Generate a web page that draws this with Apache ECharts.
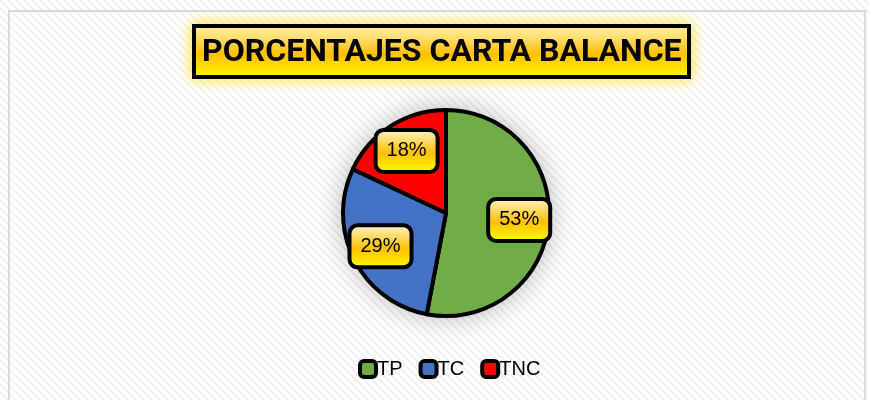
<!DOCTYPE html>
<html>
<head>
<meta charset="utf-8">
<script src="https://cdn.jsdelivr.net/npm/echarts@6/dist/echarts.min.js"></script>
<style>
html, body { margin: 0; padding: 0; background: #fff; }
#Pie { width: 869px; height: 400px; }
</style>
</head>
<body>
<div id="Pie"></div>
<script>
// datos del grafico
var categorias = ['TP', 'TC', 'TNC'];
var valores = [53, 29, 18];
var colores = ['#70ad47', '#4472c4', '#ff0000'];
var titulo = 'PORCENTAJES CARTA BALANCE';

// fondo con trama diagonal
var trama = document.createElement('canvas');
trama.width = 8;
trama.height = 8;
var ctx = trama.getContext('2d');
ctx.fillStyle = '#ffffff';
ctx.fillRect(0, 0, 8, 8);
ctx.strokeStyle = '#f1f1f1';
ctx.lineWidth = 2;
ctx.beginPath();
ctx.moveTo(0, 0); ctx.lineTo(8, 8);
ctx.moveTo(-4, 4); ctx.lineTo(4, 12);
ctx.moveTo(4, -4); ctx.lineTo(12, 4);
ctx.stroke();

var amarillo = new echarts.graphic.LinearGradient(0, 0, 0, 1, [
	{offset: 0, color: '#fff6d5'},
	{offset: 0.55, color: '#ffc000'},
	{offset: 1, color: '#ffff00'}
]);

var datos = categorias.map(function(c, i){
	return {name: c, value: valores[i], itemStyle: {color: colores[i]}};
});
// misma data sin color, solo para las etiquetas
var datosEtiquetas = categorias.map(function(c, i){
	return {name: c, value: valores[i]};
});

var myChart = echarts.init(document.getElementById('Pie'));

option1 = {
	backgroundColor: {image: trama, repeat: 'repeat'},
	graphic: [{
		type: 'rect',
		shape: {x: 9, y: 11, width: 856, height: 400},
		style: {fill: 'none', stroke: '#d9d9d9', lineWidth: 2},
		silent: true
	}],
	title: {
		text: titulo,
		left: 194,
		top: 26,
		padding: [10, 8, 7, 8],
		backgroundColor: amarillo,
		borderColor: '#000',
		borderWidth: 4,
		shadowColor: 'rgba(255,225,0,0.8)',
		shadowBlur: 14,
		textStyle: {
			fontFamily: 'Roboto',
			fontWeight: 'bold',
			fontSize: 32,
			color: '#000',
			lineHeight: 34
		}
	},
	legend: {
		bottom: 16,
		left: 353,
		itemWidth: 16,
		itemHeight: 16,
		itemGap: 16,
		icon: 'roundRect',
		data: categorias,
		itemStyle: {borderColor: '#000', borderWidth: 4},
		textStyle: {fontFamily: 'Liberation Sans', fontSize: 20, color: '#000', padding: [0, 0, 0, -4]}
	},
	series: [{
			// sombra detras del circulo
			type: 'pie',
			center: [446, 213],
			radius: [0, 103],
			silent: true,
			z: 1,
			label: {show: false},
			labelLine: {show: false},
			itemStyle: {
				color: '#fff',
				borderWidth: 0,
				shadowColor: 'rgba(0,0,0,0.3)',
				shadowBlur: 28
			},
			data: [{value: 1, name: ''}],
			legendHoverLink: false
		},
		{
			name: 'Cartera',
			type: 'pie',
			center: [446, 213],
			radius: [0, 103],
			startAngle: 90,
			clockwise: true,
			z: 2,
			label: {show: false},
			labelLine: {show: false},
			itemStyle: {
				borderColor: '#000',
				borderWidth: 4
			},
			emphasis: {scale: false},
			data: datos
		},
		{
			name: 'Cartera',
			type: 'pie',
			center: [446, 213],
			radius: [38, 103],
			startAngle: 90,
			silent: true,
			z: 3,
			itemStyle: {color: 'rgba(0,0,0,0)', borderWidth: 0},
			labelLine: {show: false},
			label: {
				show: true,
				position: 'inside',
				formatter: '{d}%',
				fontFamily: 'Liberation Sans',
				fontSize: 20,
				color: '#000',
				backgroundColor: amarillo,
				borderColor: '#000',
				borderWidth: 4,
				borderRadius: 6,
				padding: [10, 9, 8, 9]
			},
			data: datosEtiquetas
		}
	]
};

myChart.setOption(option1);

window.addEventListener('resize', function(){
	myChart.resize();
});
</script>
</body>
</html>
